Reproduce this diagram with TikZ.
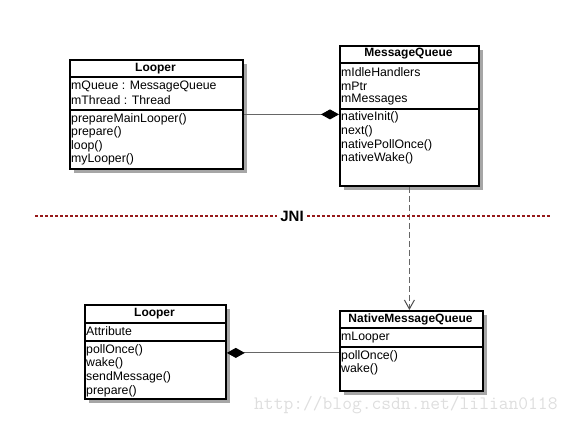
\documentclass[tikz,border=0pt]{standalone}
\usepackage{fontspec}
\setmainfont{Liberation Sans}
\usetikzlibrary{arrows.meta,shadows}
\definecolor{jnired}{RGB}{150,25,25}
\begin{document}
\begin{tikzpicture}[x=1pt,y=-1pt,
  cls/.style={draw=black,line width=1.8pt,fill=white,anchor=north west,inner sep=0pt,
    drop shadow={shadow xshift=4pt,shadow yshift=-4pt,fill=black!35,opacity=1}},
  sep/.style={line width=1.3pt},
  ttl/.style={font=\fontsize{12}{14}\selectfont\bfseries,inner sep=0pt},
  txt/.style={font=\fontsize{12.3}{14}\selectfont,anchor=west,inner sep=0pt},
  conn/.style={draw=black!60,line width=1pt}]
\useasboundingbox (0,0) rectangle (576,423);
% upper Looper
\node[cls,minimum width=173pt,minimum height=109pt] (lq) at (69,59) {};
\draw[sep] (69,77) -- (242,77);
\draw[sep] (69,110) -- (242,110);
\node[ttl] (lqt) at (155.5,68.5) {Looper};
\node[txt] (lq1) at (71,86) {mQueue : MessageQueue};
\node[txt] (lq2) at (71,100) {mThread : Thread};
\node[txt] (lq3) at (71,119.5) {prepareMainLooper()};
\node[txt] (lq4) at (71,132.5) {prepare()};
\node[txt] (lq5) at (71,146) {loop()};
\node[txt] (lq6) at (71,159) {myLooper()};
% MessageQueue
\node[cls,minimum width=139pt,minimum height=140pt] (mq) at (339,45) {};
\draw[sep] (339,63) -- (478,63);
\draw[sep] (339,109) -- (478,109);
\node[ttl] (mqt) at (408.5,54) {MessageQueue};
\node[txt] (mq1) at (341,72) {mIdleHandlers};
\node[txt] (mq2) at (341,86) {mPtr};
\node[txt] (mq3) at (341,100) {mMessages};
\node[txt] (mq4) at (341,117.5) {nativeInit()};
\node[txt] (mq5) at (341,131) {next()};
\node[txt] (mq6) at (341,145) {nativePollOnce()};
\node[txt] (mq7) at (341,158.5) {nativeWake()};
% lower Looper
\node[cls,minimum width=141pt,minimum height=94pt] (ll) at (84,304) {};
\draw[sep] (84,323) -- (225,323);
\draw[sep] (84,341) -- (225,341);
\node[ttl] (llt) at (154.5,313.5) {Looper};
\node[txt] (ll1) at (86,331.5) {Attribute};
\node[txt] (ll2) at (86,350) {pollOnce()};
\node[txt] (ll3) at (86,363.5) {wake()};
\node[txt] (ll4) at (86,377.5) {sendMessage()};
\node[txt] (ll5) at (86,391) {prepare()};
% NativeMessageQueue
\node[cls,minimum width=143pt,minimum height=80pt] (nq) at (339,310) {};
\draw[sep] (339,328) -- (482,328);
\draw[sep] (339,347) -- (482,347);
\node[ttl] (nqt) at (410.5,319) {NativeMessageQueue};
\node[txt] (nq1) at (341,338) {mLooper};
\node[txt] (nq2) at (341,356) {pollOnce()};
\node[txt] (nq3) at (341,369) {wake()};
% connectors
\draw[conn,-{Diamond[length=18pt,width=10pt,fill=black,color=black]}] (lq.east) -- (lq.east -| mq.west);
\draw[conn,{Diamond[length=18pt,width=10pt,fill=black,color=black]}-] ([yshift=-1pt]ll.east) -- ([yshift=-1pt]ll.east -| nq.west);
\draw[conn,dashed,dash pattern=on 6pt off 3pt,-{Straight Barb[length=9pt,width=10pt,color=black!70]}] (mq.south) -- (mq.south |- nq.north);
% JNI line
\node[font=\fontsize{15}{17}\selectfont\bfseries,inner sep=3pt] (jni) at (292,216) {JNI};
\coordinate (jl) at (35,216);
\coordinate (jr) at (550,216);
\draw[jnired,line width=2.8pt,dash pattern=on 3pt off 2pt] (jl) -- (jni.west);
\draw[jnired,line width=2.8pt,dash pattern=on 3pt off 2pt] (jni.east) -- (jr);
% watermark
\node[font=\ttfamily\fontsize{19}{20}\selectfont,text=black!13,anchor=west,inner sep=0pt] (wm) at (254,405) {http://blog.csdn.net/lilian0118};
\end{tikzpicture}
\end{document}
